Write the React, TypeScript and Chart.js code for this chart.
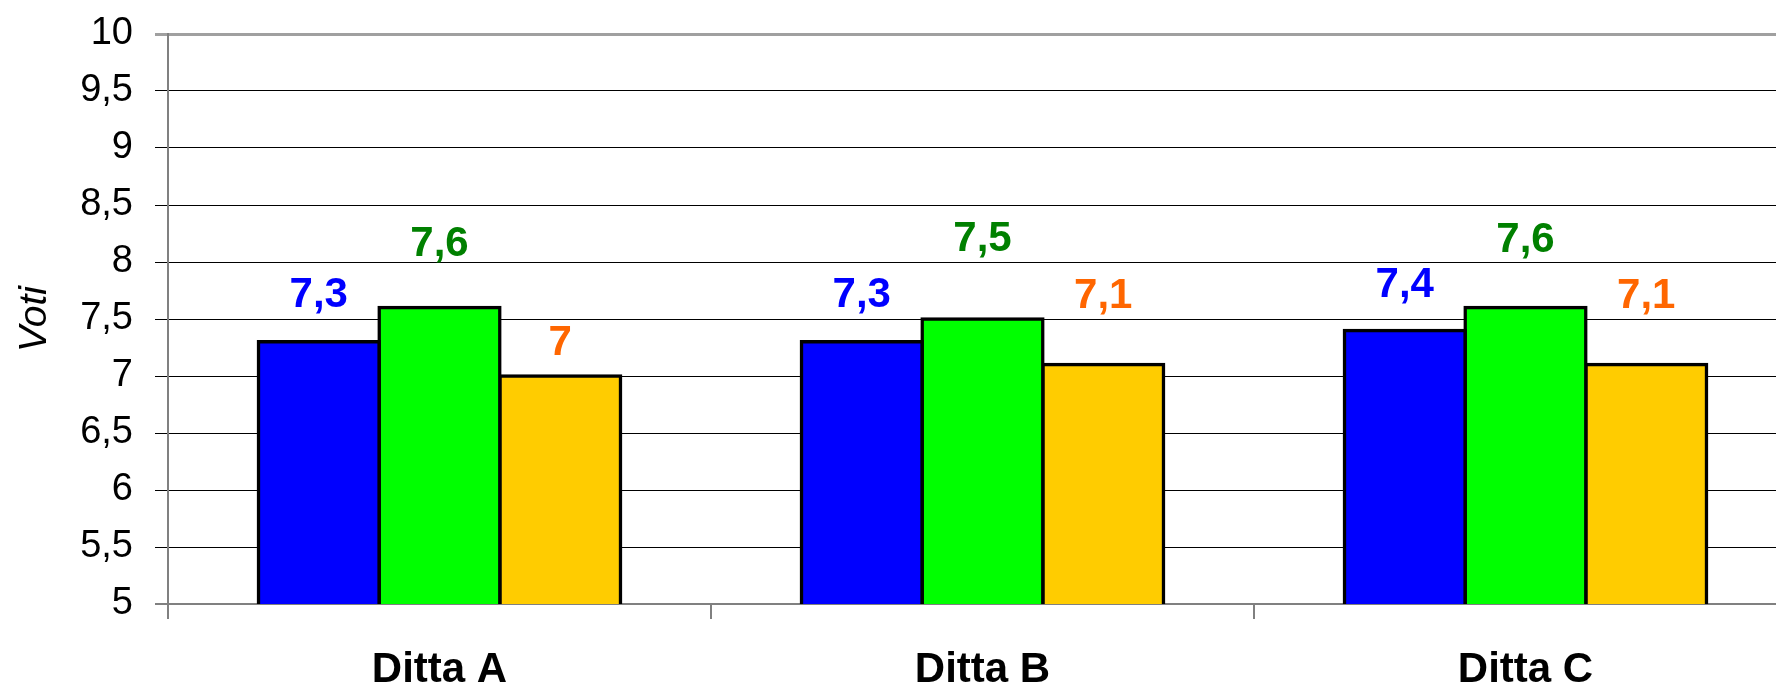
import React, { useEffect, useRef } from "react";
import { Chart, registerables } from "chart.js";

Chart.register(...registerables);

const categories = ["Ditta A", "Ditta B", "Ditta C"];
const serie1 = [7.3, 7.3, 7.4];
const serie2 = [7.6, 7.5, 7.6];
const serie3 = [7.0, 7.1, 7.1];
const yMin = 5;
const yMax = 10;
const yStep = 0.5;
const axisTitle = "Voti";

const FAMILY = "'Liberation Sans', Arial, Helvetica, sans-serif";

const fmt = (v: number) => String(Math.round(v * 10) / 10).replace(".", ",");

const valueLabels = {
  id: "valueLabels",
  afterDatasetsDraw(chart: any, _args: any, opts: any) {
    const ctx = chart.ctx;
    ctx.save();
    ctx.font = `bold 42px ${FAMILY}`;
    ctx.textAlign = "center";
    ctx.textBaseline = "alphabetic";
    chart.data.datasets.forEach((ds: any, i: number) => {
      const meta = chart.getDatasetMeta(i);
      meta.data.forEach((bar: any, j: number) => {
        ctx.fillStyle = opts.colors[i];
        ctx.fillText(fmt(ds.data[j]), bar.x, bar.y - opts.lift[i][j]);
      });
    });
    ctx.restore();
  },
};

export default function App() {
  const ref = useRef<HTMLCanvasElement | null>(null);

  useEffect(() => {
    if (!ref.current) return;
    const barCommon = {
      borderColor: "#000000",
      borderWidth: 3.5,
      borderSkipped: false,
      inflateAmount: 1.75,
      categoryPercentage: 0.667,
      barPercentage: 1.0,
    };
    const chart = new Chart(ref.current, {
      type: "bar",
      data: {
        labels: categories,
        datasets: [
          { label: "Serie 1", data: serie1, backgroundColor: "#0000FF", ...barCommon },
          { label: "Serie 2", data: serie2, backgroundColor: "#00FF00", ...barCommon },
          { label: "Serie 3", data: serie3, backgroundColor: "#FFCC00", ...barCommon },
        ] as any,
      },
      options: {
        animation: false,
        responsive: true,
        maintainAspectRatio: false,
        layout: { padding: { top: 34, right: 3, left: 0, bottom: 0 } },
        plugins: {
          legend: { display: false },
          tooltip: { enabled: false },
          valueLabels: {
            colors: ["#0000FF", "#008000", "#FF6600"],
            lift: [
              [35, 35, 33],
              [52, 68, 56],
              [21, 57, 57],
            ],
          },
        } as any,
        scales: {
          x: {
            grid: {
              offset: true,
              drawOnChartArea: false,
              drawTicks: true,
              tickLength: 15,
              color: "#808080",
              lineWidth: 2,
            },
            border: { display: true, color: "#808080", width: 2 },
            ticks: {
              font: { family: FAMILY, size: 42, weight: "bold" },
              color: "#000000",
              padding: 26,
            },
            afterFit: (s: any) => {
              s.height = 85;
              s.paddingLeft = 0;
              s.paddingRight = 0;
            },
          },
          y: {
            min: yMin,
            max: yMax,
            ticks: {
              stepSize: yStep,
              callback: (v: any) => fmt(Number(v)),
              font: { family: FAMILY, size: 38 },
              color: "#000000",
              padding: 22,
            },
            grid: {
              drawTicks: true,
              tickLength: 13,
              color: (c: any) =>
                c.tick && c.tick.value === yMax ? "#A0A0A0" : c.tick && c.tick.value === yMin ? "#808080" : "#000000",
              lineWidth: (c: any) =>
                c.tick && c.tick.value === yMax ? 3 : c.tick && c.tick.value === yMin ? 2 : 1,
            },
            border: { display: true, color: "#808080", width: 2 },
            title: {
              display: true,
              text: axisTitle,
              color: "#000000",
              font: { family: FAMILY, size: 39, style: "italic" },
              padding: { top: 12, bottom: 0 },
            },
            afterFit: (s: any) => {
              s.width = 168;
              s.paddingTop = 0;
              s.paddingBottom = 0;
            },
          },
        },
      } as any,
      plugins: [valueLabels as any],
    });
    return () => chart.destroy();
  }, []);

  return (
    <div
      style={{
        position: "fixed",
        left: 0,
        top: 0,
        width: 1776,
        height: 689,
        overflow: "hidden",
        background: "#ffffff",
      }}
    >
      <div style={{ position: "relative", width: 1800, height: 689 }}>
        <canvas ref={ref} />
      </div>
    </div>
  );
}
